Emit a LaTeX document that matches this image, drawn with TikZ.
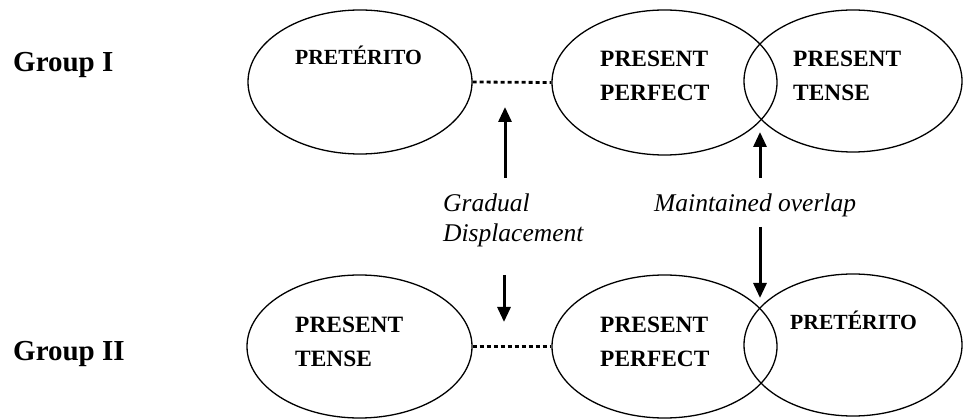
\documentclass[tikz,border=0pt]{standalone}
\usepackage{fontspec}
\setmainfont{Liberation Serif}
\usetikzlibrary{shapes.geometric,arrows.meta}

\begin{document}
\begin{tikzpicture}[x=1pt,y=-1pt,
  tense/.style={draw,ellipse,line width=1.3pt,inner sep=0pt},
  tensetext/.style={font=\bfseries\fontsize{23.4}{34}\selectfont,align=left,anchor=base west,inner sep=0pt},
  prettext/.style={font=\bfseries\fontsize{21.6}{30}\selectfont,anchor=base west,inner sep=0pt},
  grouptext/.style={font=\bfseries\fontsize{29}{34}\selectfont,anchor=base west,inner sep=0pt},
  notetext/.style={font=\itshape\fontsize{25.5}{30.5}\selectfont,align=left,anchor=base west,inner sep=0pt},
  dotlink/.style={line width=2.8pt,dash pattern=on 4pt off 3pt},
  movearrow/.style={line width=3pt,-{Triangle[width=13pt,length=15pt]}}]
\useasboundingbox (0,0) rectangle (963,419);

% Group I
\node[tense,minimum width=224pt,minimum height=144pt] (e1) at (360,82) {};
\node[tense,minimum width=225pt,minimum height=145pt] (e2) at (664.5,82.5) {};
\node[tense,minimum width=218pt,minimum height=142pt] (e3) at (853,81) {};

% Group II
\node[tense,minimum width=225pt,minimum height=143pt] (f1) at (359.5,346.5) {};
\node[tense,minimum width=225pt,minimum height=143pt] (f2) at (664.5,346.5) {};
\node[tense,minimum width=218pt,minimum height=142pt] (f3) at (853,345) {};

% tense labels (two-line nodes sit on the baseline of their last line)
\node[prettext] (t1) at (295,65) {PRETÉRITO};
\node[tensetext] (t2) at (600,101) {PRESENT\\PERFECT};
\node[tensetext] (t3) at (793,101) {PRESENT\\TENSE};
\node[tensetext] (b1) at (295,366) {PRESENT\\TENSE};
\node[tensetext] (b2) at (600,366) {PRESENT\\PERFECT};
\node[prettext] (b3) at (790,330) {PRETÉRITO};

% group labels
\node[grouptext] (g1) at (13,72) {Group I};
\node[grouptext] (g2) at (13,360) {Group II};

% annotations
\node[notetext] (n1) at (443,242) {Gradual\\Displacement};
\node[notetext] (n2) at (654,212) {Maintained overlap};

% dotted links between separated tenses
\draw[dotlink] (e1.east) -- (e2.west);
\draw[dotlink] (f1.east) -- (f2.west);

% arrows
\coordinate (a1s) at (505,178);
\coordinate (a1e) at (505,107);
\coordinate (a2s) at (504,275);
\coordinate (a2e) at (504,322);
\coordinate (a3s) at (760,178);
\coordinate (a3e) at (760,132);
\coordinate (a4s) at (760,227);
\coordinate (a4e) at (760,298);
\draw[movearrow] (a1s) -- (a1e);
\draw[movearrow] (a2s) -- (a2e);
\draw[movearrow] (a3s) -- (a3e);
\draw[movearrow] (a4s) -- (a4e);
\end{tikzpicture}
\end{document}
